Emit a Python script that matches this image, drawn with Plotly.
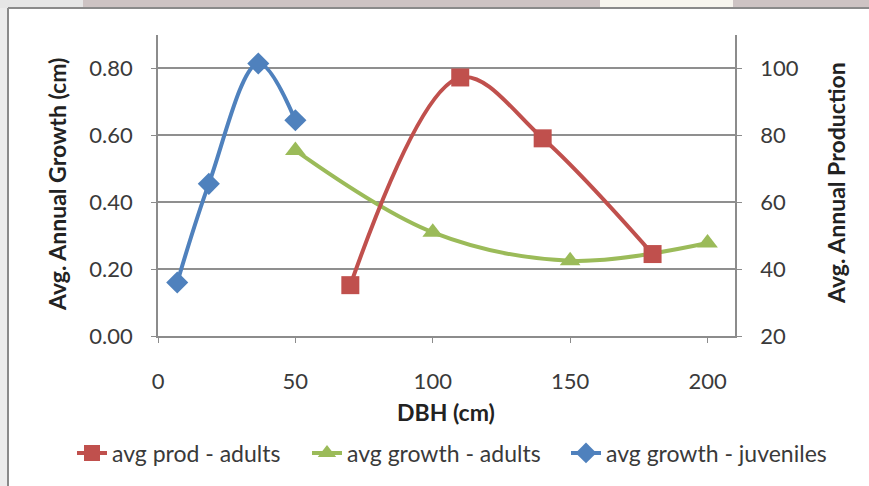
import plotly.graph_objects as go

# Data
juv_dbh = [7, 18.5, 36.5, 50]
juv_growth = [0.16, 0.455, 0.815, 0.645]

adult_dbh = [50, 100, 150, 200]
adult_growth = [0.555, 0.31, 0.225, 0.278]

prod_dbh = [70, 110, 140, 180]
prod_vals = [35.2, 97.3, 79.1, 44.5]

x_ticks = [0, 50, 100, 150, 200]
left_ticks = [0, 0.2, 0.4, 0.6, 0.8]
right_ticks = [20, 40, 60, 80, 100]

RED = "#C0504D"
GREEN = "#9BBB59"
BLUE = "#4F81BD"
FONT = "Lato"

W, H = 869, 486
L, R, T, B = 158, 735, 35, 336

fig = go.Figure()
fig.add_trace(go.Scatter(
    x=prod_dbh, y=prod_vals, name="avg prod - adults", yaxis="y2", legend="legend",
    mode="lines+markers", line=dict(color=RED, width=4, shape="spline", smoothing=1.0),
    marker=dict(symbol="square", size=18, color=RED)))
fig.add_trace(go.Scatter(
    x=adult_dbh, y=adult_growth, name="avg growth - adults", legend="legend2",
    mode="lines+markers", line=dict(color=GREEN, width=4, shape="spline", smoothing=1.0),
    marker=dict(symbol="triangle-up", size=18, color=GREEN)))
fig.add_trace(go.Scatter(
    x=juv_dbh, y=juv_growth, name="avg growth - juveniles", legend="legend3",
    mode="lines+markers", line=dict(color=BLUE, width=4, shape="spline", smoothing=1.0),
    marker=dict(symbol="diamond", size=17, color=BLUE)))

axis_line = "#8c8c8c"
TXT = "#3a3a3a"
TITLE = "#222222"


def leg(x_px):
    return dict(orientation="h", xref="container", yref="container",
                x=x_px / W, xanchor="left", y=1 - 453 / H, yanchor="middle",
                font=dict(family=FONT, size=23, color=TXT),
                bgcolor="rgba(0,0,0,0)", borderwidth=0)


fig.update_layout(
    width=W, height=H,
    margin=dict(l=L, r=W - R, t=T, b=H - B, pad=0),
    paper_bgcolor="white", plot_bgcolor="white",
    font=dict(family=FONT, size=22, color=TXT),
    showlegend=True,
    legend=leg(72),
    legend2=leg(307),
    legend3=leg(566),
    xaxis=dict(range=[0, 210], tickvals=x_ticks, ticks="outside", ticklen=5,
               tickcolor=axis_line, showline=True, linecolor=axis_line, linewidth=1.5,
               showgrid=False, zeroline=False, ticklabelstandoff=20,
               tickfont=dict(size=22, color=TXT)),
    yaxis=dict(range=[0, 0.9], tickvals=left_ticks, tickformat=".2f", ticks="outside",
               ticklen=5, tickcolor=axis_line, showline=True, linecolor=axis_line,
               linewidth=1.5, showgrid=True, gridcolor="#8f8f8f", gridwidth=2,
               zeroline=False, ticklabelstandoff=14, tickfont=dict(size=22, color=TXT)),
    yaxis2=dict(range=[20, 110], tickvals=right_ticks, overlaying="y", side="right",
                ticks="outside", ticklen=5, tickcolor=axis_line, showline=True,
                linecolor=axis_line, linewidth=1.5, showgrid=False, zeroline=False,
                ticklabelstandoff=14, tickfont=dict(size=22, color=TXT)),
)


def px(xp):
    return (xp - L) / (R - L)


def py(yp):
    return (B - yp) / (B - T)


fig.add_annotation(text="<b>Avg. Annual Growth (cm)</b>", x=px(57), y=py(185),
                   xref="paper", yref="paper", showarrow=False, textangle=-90,
                   font=dict(family=FONT, size=23, color=TITLE),
                   xanchor="center", yanchor="middle")
fig.add_annotation(text="<b>Avg. Annual Production</b>", x=px(836), y=py(183),
                   xref="paper", yref="paper", showarrow=False, textangle=-90,
                   font=dict(family=FONT, size=23, color=TITLE),
                   xanchor="center", yanchor="middle")
fig.add_annotation(text="<b>DBH (cm)</b>", x=px(446), y=py(412),
                   xref="paper", yref="paper", showarrow=False,
                   font=dict(family=FONT, size=23, color=TITLE),
                   xanchor="center", yanchor="middle")

# Surrounding screenshot frame
shapes = [
    dict(type="rect", xref="paper", yref="paper", x0=px(0), x1=px(8), y0=py(486), y1=py(0),
         fillcolor="#ececec", line=dict(width=0), layer="below"),
    dict(type="rect", xref="paper", yref="paper", x0=px(0), x1=px(869), y0=py(8), y1=py(0),
         fillcolor="#e6e6e6", line=dict(width=0), layer="below"),
    dict(type="rect", xref="paper", yref="paper", x0=px(83), x1=px(600), y0=py(8), y1=py(0),
         fillcolor="#cdc3c3", line=dict(width=0), layer="below"),
    dict(type="rect", xref="paper", yref="paper", x0=px(600), x1=px(733), y0=py(8), y1=py(0),
         fillcolor="#f7f5ee", line=dict(width=0), layer="below"),
    dict(type="rect", xref="paper", yref="paper", x0=px(733), x1=px(869), y0=py(8), y1=py(0),
         fillcolor="#cdc3c3", line=dict(width=0), layer="below"),
    dict(type="line", xref="paper", yref="paper", x0=px(8), x1=px(869), y0=py(8), y1=py(8),
         line=dict(color="#8a8a8a", width=2)),
    dict(type="line", xref="paper", yref="paper", x0=px(8), x1=px(8), y0=py(8), y1=py(486),
         line=dict(color="#8a8a8a", width=2)),
]
fig.update_layout(shapes=shapes)

fig.write_html("out.html")
